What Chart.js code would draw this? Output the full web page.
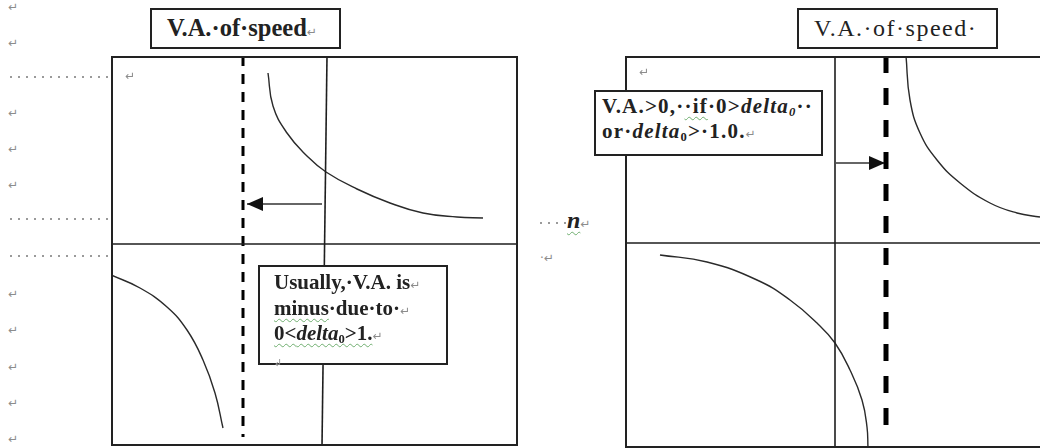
<!DOCTYPE html>
<html><head><meta charset="utf-8">
<script src="https://cdn.jsdelivr.net/npm/chart.js@4.4.1/dist/chart.umd.min.js"></script>
<style>
html,body{margin:0;padding:0;width:1040px;height:448px;overflow:hidden;background:#fff;}
#wrap{position:relative;width:1040px;height:448px;overflow:hidden;}
canvas{position:absolute;}
.mark{position:absolute;color:#8c8c8c;font-size:12px;font-family:"DejaVu Sans",sans-serif;line-height:1;}
.dots{position:absolute;height:2px;background:repeating-linear-gradient(to right,#9a9a9a 0 2px,transparent 2px 8px);}
.box{position:absolute;border:2px solid #222;background:#fff;box-sizing:border-box;color:#222;font-family:"Liberation Serif",serif;z-index:2;white-space:nowrap;}
.ret{color:#8c8c8c;font-size:12px;font-family:"DejaVu Sans",sans-serif;font-weight:normal;letter-spacing:0;}
.wavy{text-decoration:underline wavy #6fae6f;text-decoration-thickness:1px;text-underline-offset:3px;}
sub{font-size:60%;vertical-align:-3px;line-height:0;}
</style>
</head><body>
<div id="wrap">
<canvas id="leftChart" width="407" height="390" style="left:111px;top:56px"></canvas>
<canvas id="rightChart" width="422" height="392" style="left:625px;top:56px"></canvas>

<div class="box" style="left:150px;top:8px;width:191px;height:41px;padding:5px 0 0 15px;font-size:24.5px;font-weight:bold;line-height:26px;">V.A.·of·speed<span class="ret">↵</span></div>
<div class="box" style="left:797px;top:8px;width:201px;height:41px;padding:5px 0 0 15px;font-size:24px;line-height:26px;letter-spacing:1.5px;">V.A.·of·speed·</div>

<div class="box" style="left:258px;top:265px;width:190px;height:100px;padding:4px 0 0 14px;font-size:21px;font-weight:bold;line-height:22.5px;">Usually,·V.A. is<span class="ret">↵</span><br><span class="wavy">minus</span>·due·to·<span class="ret">↵</span><br><span class="wavy">0&lt;<i>delta</i><sub>0</sub>&gt;1.</span><span class="ret">↵</span><br><span class="ret" style="font-size:10px;">↲</span></div>

<div class="box" style="left:594px;top:90px;width:229px;height:66px;padding:2px 0 0 6px;font-size:21px;font-weight:bold;line-height:25px;letter-spacing:1.2px;">V.A.&gt;0,·<span class="wavy">·if</span>·0&gt;<i>delta<sub>0</sub></i>··<br>or·<i>delta</i><sub>0</sub>&gt;·1.0.<span class="ret">↵</span></div>

<div class="dots" style="left:10px;top:76px;width:98px"></div>
<div class="dots" style="left:10px;top:218px;width:98px"></div>
<div class="dots" style="left:10px;top:255px;width:98px"></div>
<div class="dots" style="left:540px;top:222px;width:26px"></div>
<div style="position:absolute;left:567px;top:208px;font-family:'Liberation Serif',serif;font-style:italic;font-weight:bold;font-size:24px;color:#222;line-height:24px;"><span class="wavy">n</span><span class="ret" style="font-style:normal">↵</span></div>
<div class="mark" style="left:540px;top:252px">·↵</div>
</div>
<script>
// ---------- data (diagram units; axes cross at 0,0) ----------
// Left panel: "Usually V.A. is minus"
const leftXRange = [-2.13, 1.94];
const leftYRange = [-2.02, 1.88];
const leftAsymptoteX = -0.81;
const leftAsymptoteY = [1.88, -1.93];
const leftUpperBranch = [[-0.56,1.71],[-0.51,1.38],[-0.37,1.11],[-0.17,0.88],[0.02,0.72],[0.33,0.55],[0.66,0.41],[0.99,0.31],[1.33,0.27],[1.59,0.26]];
const leftLowerBranch = [[-2.13,-0.31],[-1.84,-0.44],[-1.57,-0.63],[-1.37,-0.86],[-1.21,-1.16],[-1.09,-1.49],[-1.01,-1.84]];
const leftArrow = [[-0.02,0.40],[-0.77,0.40]];
const leftVAxis = [[0.03,1.88],[-0.02,-2.02]];

// Right panel: "V.A. > 0"
const rightXRange = [-2.10, 2.12];
const rightYRange = [-2.05, 1.87];
const rightAsymptoteX = 0.51;
const rightAsymptoteY = [1.87, -1.92];
const rightUpperBranch = [[0.71,1.87],[0.75,1.43],[0.85,1.10],[1.02,0.83],[1.25,0.60],[1.55,0.40],[1.82,0.30],[2.05,0.26]];
const rightLowerBranch = [[-1.75,-0.12],[-1.28,-0.19],[-0.78,-0.37],[-0.45,-0.57],[-0.18,-0.80],[0.00,-1.00],[0.15,-1.27],[0.27,-1.57],[0.32,-1.84],[0.33,-2.05]];
const rightArrow = [[0.01,0.80],[0.50,0.80]];
const rightVAxis = [[0.0,1.87],[0.0,-2.05]];

// Left-margin paragraph marks (row positions, document y)
const marginMarkRows = [1, 37, 107, 143, 179, 288, 324, 361, 397, 433];

// ---------- page furniture ----------
const wrap = document.getElementById('wrap');
marginMarkRows.forEach(t => {
  const d = document.createElement('div');
  d.className = 'mark'; d.style.left = '8px'; d.style.top = t + 'px'; d.textContent = '↵';
  wrap.appendChild(d);
});
[[125,70],[639,66]].forEach(([l,t]) => {
  const d = document.createElement('div');
  d.className = 'mark'; d.style.left = l + 'px'; d.style.top = t + 'px'; d.textContent = '↵';
  wrap.appendChild(d);
});

const pts = a => a.map(([x,y]) => ({x, y}));

const framePlugin = {
  id: 'frame',
  afterDraw(chart) {
    const {ctx, chartArea: a} = chart;
    ctx.save();
    ctx.strokeStyle = '#222';
    ctx.lineWidth = 2;
    ctx.strokeRect(a.left + 1, a.top + 1, a.right - a.left - 2, a.bottom - a.top - 2);
    ctx.restore();
  }
};
const arrowPlugin = {
  id: 'arrowHeads',
  afterDatasetsDraw(chart) {
    const ctx = chart.ctx;
    chart.data.datasets.forEach((ds, i) => {
      if (!ds.arrowHead) return;
      const els = chart.getDatasetMeta(i).data;
      const p1 = els[els.length - 2], p2 = els[els.length - 1];
      const ang = Math.atan2(p2.y - p1.y, p2.x - p1.x);
      const L = 16, W = 7;
      ctx.save();
      ctx.fillStyle = '#111';
      ctx.translate(p2.x, p2.y);
      ctx.rotate(ang);
      ctx.beginPath();
      ctx.moveTo(0, 0);
      ctx.lineTo(-L, -W);
      ctx.lineTo(-L, W);
      ctx.closePath();
      ctx.fill();
      ctx.restore();
    });
  }
};

function makeChart(id, xr, yr, vAxis, asymX, asymY, upper, lower, arrow, dashW, dash) {
  const line = (data, extra) => Object.assign({
    data: pts(data), borderColor: '#2a2a2a', borderWidth: 1.4, pointRadius: 0,
    showLine: true, tension: 0.45, fill: false
  }, extra);
  return new Chart(document.getElementById(id), {
    type: 'scatter',
    data: {
      datasets: [
        line([[xr[0],0],[xr[1],0]], {borderColor:'#1e1e1e', borderWidth:1.6, tension:0}),
        line(vAxis, {borderColor:'#1e1e1e', borderWidth:1.6, tension:0}),
        line(upper, {}),
        line(lower, {}),
        line([[asymX,asymY[0]],[asymX,asymY[1]]], {borderColor:'#000', borderWidth:dashW, borderDash:dash, tension:0, borderCapStyle:'butt'}),
        line(arrow, {borderColor:'#333', borderWidth:1.5, tension:0, arrowHead:true})
      ]
    },
    options: {
      responsive: false, animation: false, devicePixelRatio: 1,
      layout: {padding: 0},
      plugins: {legend: {display: false}, tooltip: {enabled: false}},
      scales: {
        x: {type: 'linear', min: xr[0], max: xr[1], display: false},
        y: {type: 'linear', min: yr[0], max: yr[1], display: false}
      }
    },
    plugins: [framePlugin, arrowPlugin]
  });
}

makeChart('leftChart', leftXRange, leftYRange, leftVAxis, leftAsymptoteX, leftAsymptoteY,
  leftUpperBranch, leftLowerBranch, leftArrow, 3, [10, 8]);
makeChart('rightChart', rightXRange, rightYRange, rightVAxis, rightAsymptoteX, rightAsymptoteY,
  rightUpperBranch, rightLowerBranch, rightArrow, 5, [17, 15]);
</script>
</body></html>
